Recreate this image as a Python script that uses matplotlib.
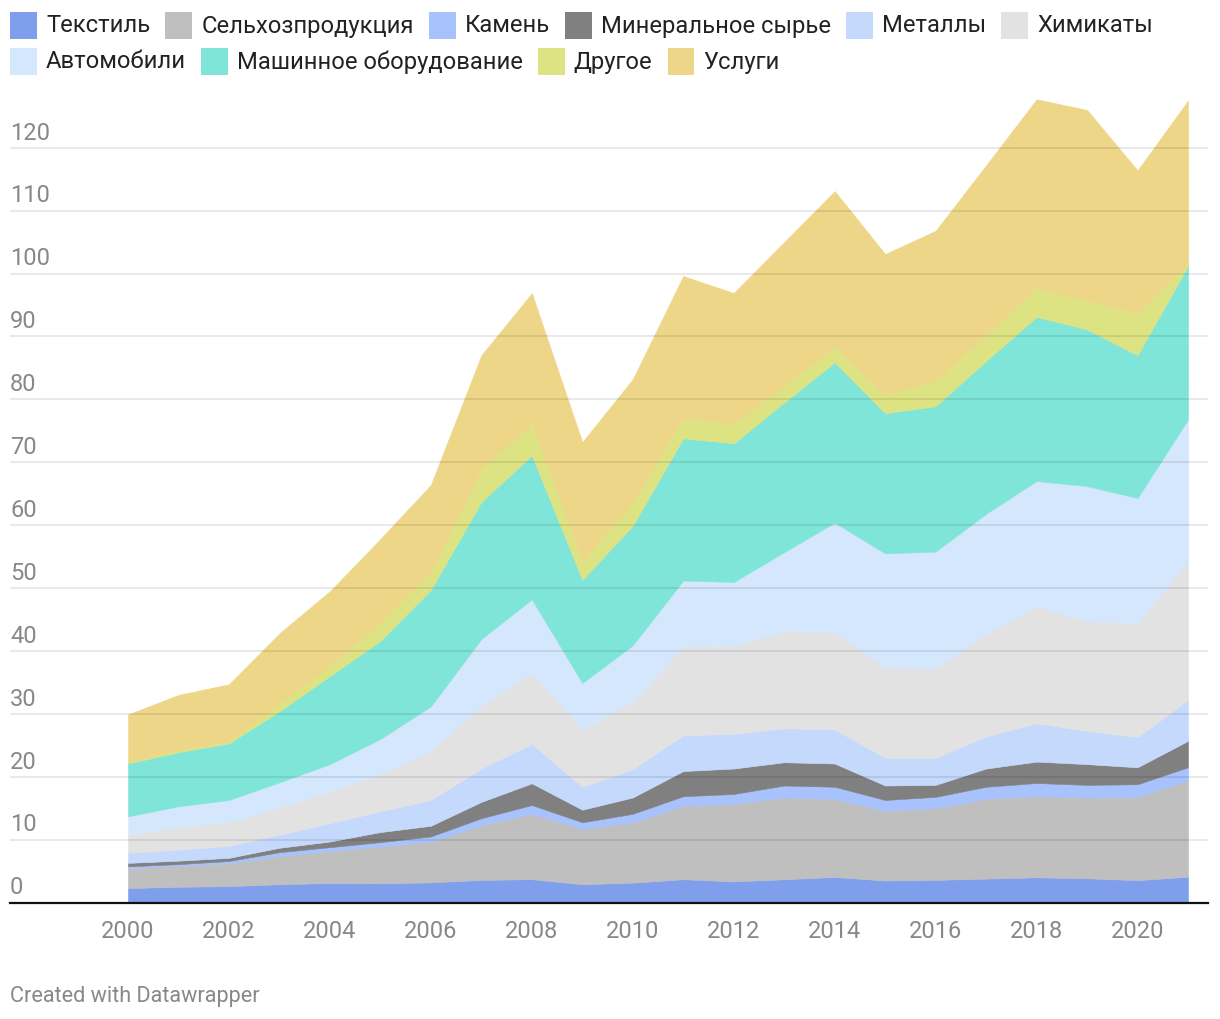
import numpy as np
import matplotlib
matplotlib.use("Agg")
import matplotlib.pyplot as plt
from matplotlib.patches import Rectangle

plt.rcParams["font.family"] = ["Roboto", "DejaVu Sans"]

years = list(range(2000, 2022))

labels = [
    "Текстиль", "Сельхозпродукция", "Камень", "Минеральное сырье",
    "Металлы", "Химикаты", "Автомобили", "Машинное оборудование",
    "Другое", "Услуги",
]

colors = [
    "#7f9fec", "#bfbfbf", "#a7c2fc", "#808080", "#c5d9fd",
    "#e2e2e2", "#d5e7fd", "#80e5d9", "#dde382", "#edd688",
]

textile = [2.3, 2.5, 2.6, 2.9, 3.1, 3.05, 3.2, 3.6, 3.7, 2.9, 3.15,
           3.7, 3.35, 3.7, 4.05, 3.5, 3.6, 3.8, 4.0, 3.85, 3.55, 4.1]
agri = [3.1, 3.35, 3.6, 4.5, 5.1, 5.85, 6.5, 8.7, 10.4, 8.8, 9.6,
        11.7, 12.35, 13.0, 12.4, 11.1, 11.4, 12.7, 12.9, 12.85, 13.25, 15.3]
stone = [0.35, 0.25, 0.4, 0.6, 0.6, 0.7, 0.8, 1.1, 1.4, 1.05, 1.35,
         1.5, 1.55, 1.9, 1.95, 1.7, 1.8, 1.9, 2.1, 2.0, 2.0, 2.1]
minerals = [0.55, 0.55, 0.5, 0.7, 0.9, 1.6, 1.7, 2.6, 3.45, 2.0, 2.6,
            4.0, 4.05, 3.7, 3.7, 2.3, 1.9, 2.9, 3.4, 3.3, 2.7, 4.2]
metals = [1.6, 1.75, 1.9, 2.1, 2.9, 3.3, 4.1, 5.3, 6.25, 3.65, 4.5,
          5.7, 5.5, 5.4, 5.4, 4.4, 4.3, 5.1, 6.1, 5.3, 4.8, 6.5]
chemicals = [2.8, 3.65, 3.75, 4.3, 5.1, 5.9, 7.8, 9.9, 11.3, 9.2, 10.7,
             14.1, 14.0, 15.4, 15.55, 14.3, 14.2, 16.3, 18.6, 17.4, 18.1, 22.1]
autos = [3.0, 3.25, 3.55, 4.0, 4.3, 5.6, 7.1, 10.7, 11.7, 7.3, 9.0,
         10.5, 10.15, 12.6, 17.35, 18.2, 18.6, 19.1, 19.9, 21.5, 19.9, 22.5]
machinery = [8.4, 8.6, 9.0, 11.3, 14.0, 15.6, 18.5, 21.8, 22.9, 16.4, 19.0,
             22.6, 22.05, 23.8, 25.5, 22.3, 23.1, 24.3, 26.1, 24.9, 22.7, 24.4]
other = [0.3, 0.3, 0.4, 1.2, 1.7, 2.9, 2.7, 5.3, 5.0, 3.0, 3.7,
         3.2, 3.2, 2.6, 2.4, 2.9, 4.1, 4.1, 4.6, 4.6, 6.7, 0.4]
services = [7.5, 8.8, 9.0, 11.2, 11.8, 13.3, 14.0, 18.0, 20.8, 18.9, 19.6,
            22.6, 20.7, 22.9, 24.8, 22.4, 23.8, 27.0, 30.0, 30.3, 22.7, 25.9]

series = [textile, agri, stone, minerals, metals,
          chemicals, autos, machinery, other, services]

W, H = 1220, 1020
fig = plt.figure(figsize=(W / 100, H / 100), dpi=100)

# axes placed in pixel terms: left 10px, right 1208px, bottom 903.5px, top 95px
ax_left, ax_right = 10, 1208
ax_bottom, ax_top = 903.5, 95
ax = fig.add_axes([
    ax_left / W,
    1 - ax_bottom / H,
    (ax_right - ax_left) / W,
    (ax_bottom - ax_top) / H,
])

px_per_year = (1188 - 128) / 21
ax.set_xlim(2000 - (128 - ax_left) / px_per_year,
            2021 + (ax_right - 1188) / px_per_year)
ax.set_ylim(0, (ax_bottom - ax_top) / 6.29)

polys = ax.stackplot(years, *series, colors=colors, linewidth=0.4)
for p, c in zip(polys, colors):
    p.set_edgecolor(c)

for v in range(10, 130, 10):
    ax.axhline(v, color="black", alpha=0.1, linewidth=1.2, zorder=5)

for v in range(0, 130, 10):
    ax.annotate(
        str(v),
        xy=(0, v),
        xycoords=("axes fraction", "data"),
        xytext=(0, 3),
        textcoords="offset points",
        ha="left",
        va="bottom",
        fontsize=17,
        color="#888888",
    )

for s in ["top", "right", "left"]:
    ax.spines[s].set_visible(False)
ax.spines["bottom"].set_color("#111111")
ax.spines["bottom"].set_linewidth(1.6)
ax.spines["bottom"].set_zorder(6)

ax.set_yticks([])
ax.set_xticks(range(2000, 2021, 2))
ax.tick_params(axis="x", length=0, pad=12, labelsize=17,
               labelcolor="#888888")

# legend laid out in two rows, like the original
fig.canvas.draw()
renderer = fig.canvas.get_renderer()
row_y = [26, 62]
sw = 27
x = 10
row = 0
for i, (lab, col) in enumerate(zip(labels, colors)):
    if i == 6:
        row = 1
        x = 10
    yc = row_y[row]
    fig.add_artist(Rectangle(
        (x / W, 1 - (yc + sw / 2) / H), sw / W, sw / H,
        transform=fig.transFigure, facecolor=col, edgecolor="none",
    ))
    t = fig.text((x + 36) / W, 1 - yc / H, lab, ha="left", va="center",
                 fontsize=17.1, color="#222222")
    bb = t.get_window_extent(renderer)
    x = bb.x1 + 15

fig.text(10 / W, 1 - 997 / H, "Created with Datawrapper", ha="left",
         va="center", fontsize=15.6, color="#888888")

fig.savefig("out.png", dpi=100)
